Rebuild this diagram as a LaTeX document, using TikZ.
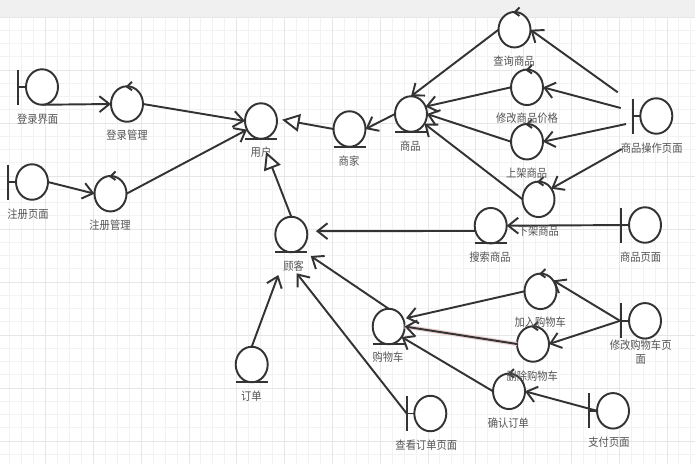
\documentclass[tikz,border=0pt]{standalone}
\usepackage{xcolor}
\usepackage{fontspec}
\usepackage{tikz}
\usetikzlibrary{arrows.meta,shapes.geometric}
\newfontfamily\cjk[FakeStretch=0.9]{Noto Sans CJK SC}
\definecolor{linegray}{HTML}{333333}
\definecolor{textgray}{HTML}{555555}
\definecolor{gridminor}{HTML}{F2F2F2}
\definecolor{gridmajor}{HTML}{E6E6E6}
\definecolor{bandgray}{HTML}{F0F0F0}
\definecolor{selectpink}{HTML}{EAD0D0}
\tikzset{
  ball/.style={draw=linegray, fill=white, ellipse, line width=1.1pt, inner sep=0pt, outer sep=0pt, minimum width=0.64cm, minimum height=0.71cm},
  lab/.style={font=\cjk\fontsize{6.5}{7.8}\selectfont, text=textgray, inner sep=0pt, align=center},
  conn/.style={draw=linegray, line width=1.1pt, -{Straight Barb[length=5.7pt,width=9pt]}},
  tri/.style={draw=linegray, line width=1.1pt, -{Triangle[open,length=10pt,width=10pt,fill=white]}},
  stroke/.style={draw=linegray, line width=1.1pt}
}
\begin{document}
\begin{tikzpicture}[x=0.02cm,y=-0.02cm]
  \useasboundingbox (0,0) rectangle (695,464);
  % paper
  \fill[white] (0,0) rectangle (695,464);
  \fill[bandgray] (0,0) rectangle (695,17);
  \foreach \i in {0,...,57} \draw[gridminor, line width=0.5pt] ({9.7+11.95*\i},17) -- ({9.7+11.95*\i},464);
  \foreach \i in {0,...,33} \draw[gridminor, line width=0.5pt] (0,{17+13.25*\i}) -- (695,{17+13.25*\i});
  \foreach \i in {0,...,13} \draw[gridmajor, line width=0.5pt] ({45.6+47.8*\i},17) -- ({45.6+47.8*\i},464);
  \foreach \i in {0,...,8} \draw[gridmajor, line width=0.5pt] (0,{17+53*\i}) -- (695,{17+53*\i});

  % left
  \node[ball] (loginpage) at (42,87) {};
  \node[ball] (loginmgr) at (127,104) {};
  \node[ball] (regpage) at (32,182) {};
  \node[ball] (regmgr) at (110.5,193.7) {};
  \node[ball] (user) at (261,121) {};
  \node[ball] (merchant) at (349.5,129) {};
  \node[ball] (customer) at (291.3,234.5) {};
  \node[ball] (order) at (251.7,364.5) {};

  % goods
  \node[ball] (goods) at (411,114) {};
  \node[ball] (query) at (514.5,29.7) {};
  \node[ball] (modify) at (527,87.3) {};
  \node[ball] (shelve) at (527,141.7) {};
  \node[ball] (unshelve) at (538.5,199.3) {};
  \node[ball] (search) at (490.7,225.7) {};
  \node[ball] (goodsop) at (656.3,116) {};
  \node[ball] (goodspage) at (645,225) {};

  % cart
  \node[ball] (cart) at (388.7,326.5) {};
  \node[ball] (addcart) at (540.5,291.3) {};
  \node[ball] (delcart) at (533,344) {};
  \node[ball] (confirm) at (509,391.3) {};
  \node[ball] (cartpage) at (645,320.8) {};
  \node[ball] (orderpage) at (430.3,413.5) {};
  \node[ball] (paypage) at (613,410.8) {};

  % bar, tick and underline of each kind
  \foreach \n in {loginpage,regpage,goodsop,goodspage,cartpage,orderpage,paypage} {
    \draw[stroke] (\n.west) ++(-7.7,-17.5) -- ++(0,35);
    \draw[stroke] (\n.west) -- ++(-7.7,0);
  }
  \foreach \n in {loginmgr,regmgr,query,modify,shelve,unshelve,addcart,delcart,confirm}
    \draw[stroke] (\n.north) ++(5,-4.5) -- ++(-5,5) -- ++(5,3.5);
  \foreach \n in {user,merchant,customer,order,goods,search,cart}
    \draw[stroke] (\n.south) ++(-16,0) -- ++(32,0);

  % free ends
  \coordinate (opquery) at (617.7,92.3);
  \coordinate (opmodify) at (620.7,108);
  \coordinate (opshelve) at (626,124);
  \coordinate (opunshelve) at (621.7,149);
  \coordinate (cartbar) at (620,320.8);
  \coordinate (orderbar) at (406.7,413.5);
  \coordinate (custright) at (310.7,256);
  \coordinate (custbottom) at (296.7,273.3);
  \coordinate (custleft) at (278.3,275);

  \draw[conn] (loginpage.south) -- (loginmgr.west);
  \draw[conn] (loginmgr.east) -- (user.west);
  \draw[conn] (regpage.east) -- (regmgr.west);
  \draw[conn] (regmgr.east) -- (user.212);
  \draw[tri, shorten >=3pt] (merchant.west) -- (user.8);
  \draw[tri, shorten >=7.9pt] (customer.north) -- (user.south);
  \draw[conn] (goods.west) -- (merchant.east);
  \draw[conn] (query.west) -- (goods.north);
  \draw[conn] (modify.west) -- (goods.27);
  \draw[conn] (shelve.west) -- (goods.east);
  \draw[conn] (unshelve.west) -- (goods.324);
  \draw[conn] (opquery) -- (query.east);
  \draw[conn] (opmodify) -- (modify.east);
  \draw[conn] (opshelve) -- (shelve.east);
  \draw[conn] (opunshelve) -- (unshelve.40);
  \draw[conn] (goodspage.west) -- (search.east);
  \draw[conn, shorten >=5.1pt] (search.199) -- (customer.12);
  \draw[conn] (cart.north) -- (custright);
  \draw[conn] (orderbar) -- (custbottom);
  \draw[conn] (order.north) -- (custleft);
  \draw[conn, shorten >=1.7pt] (addcart.west) -- (cart.28);
  \draw[selectpink, line width=2.4pt] (delcart.west) -- (cart.east);
  \draw[conn] (delcart.west) -- (cart.east);
  \draw[conn] (confirm.west) -- (cart.321);
  \draw[conn] (cartbar) -- (addcart.41);
  \draw[conn] (cartbar) -- (delcart.east);
  \draw[conn] (paypage.west) -- (confirm.east);

  % labels
  \node[lab] (loginpagetext) at (37.7,118.7) {登录界面};
  \node[lab] (loginmgrtext) at (127,135) {登录管理};
  \node[lab] (regpagetext) at (28,213.7) {注册页面};
  \node[lab] (regmgrtext) at (110,225) {注册管理};
  \node[lab] (usertext) at (261,152) {用户};
  \node[lab] (merchanttext) at (349,161) {商家};
  \node[lab] (customertext) at (293.7,266) {顾客};
  \node[lab] (ordertext) at (251.3,396) {订单};
  \node[lab] (goodstext) at (410.3,145.7) {商品};
  \node[lab] (querytext) at (514,61) {查询商品};
  \node[lab] (modifytext) at (527,118.3) {修改商品价格};
  \node[lab] (shelvetext) at (526.7,173) {上架商品};
  \node[lab] (unshelvetext) at (538.3,231.3) {下架商品};
  \node[lab] (searchtext) at (490,256.7) {搜索商品};
  \node[lab] (goodsoptext) at (651.7,148) {商品操作页面};
  \node[lab] (goodspagetext) at (640.7,257) {商品页面};
  \node[lab] (carttext) at (388,357.3) {购物车};
  \node[lab] (addcarttext) at (540.3,322) {加入购物车};
  \node[lab] (delcarttext) at (532.3,376) {删除购物车};
  \node[lab] (confirmtext) at (508.3,422.7) {确认订单};
  \node[lab] (cartpagetext) at (640.7,352) {修改购物车页\\面};
  \node[lab] (orderpagetext) at (426.3,444.7) {查看订单页面};
  \node[lab] (paypagetext) at (609,442) {支付页面};
\end{tikzpicture}
\end{document}
